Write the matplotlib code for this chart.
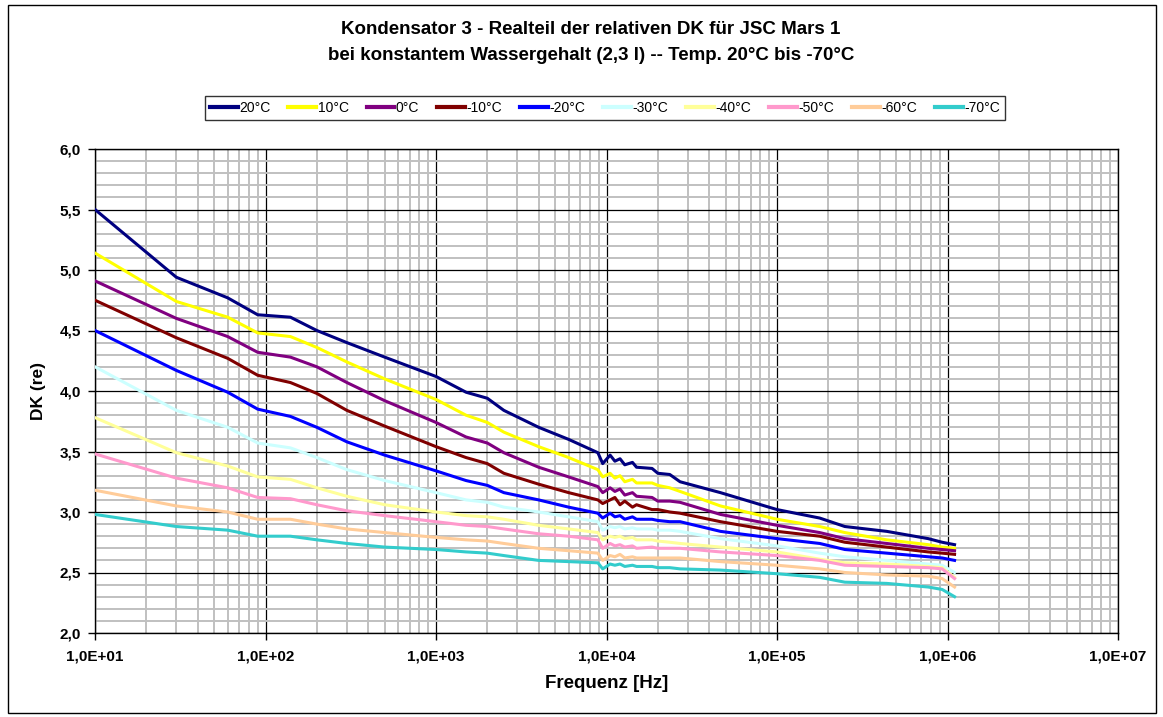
import matplotlib
matplotlib.use("Agg")
import matplotlib.pyplot as plt
from matplotlib.patches import Rectangle
from matplotlib.ticker import FixedLocator, FuncFormatter, MultipleLocator, NullFormatter

plt.rcParams["font.family"] = ["Liberation Sans", "DejaVu Sans"]

freq = [10, 30, 60, 90, 140, 200, 300, 500, 1000, 1500, 2000, 2500, 4000, 6000,
        8900, 9500, 10500, 11200, 12000, 12800, 14200, 15000, 18500, 20000, 23500,
        27000, 46600, 100000, 178000, 250000, 440000, 770000, 930000, 1100000]

labels = ["20°C", "10°C", "0°C", "-10°C", "-20°C", "-30°C", "-40°C", "-50°C", "-60°C", "-70°C"]
colors = ["#000080", "#FFFF00", "#800080", "#800000", "#0000FF",
          "#CCFFFF", "#FFFF99", "#FF99CC", "#FFCC99", "#33CCCC"]

dk_p20 = [5.50, 4.94, 4.77, 4.63, 4.61, 4.50, 4.40, 4.28, 4.12, 3.99, 3.94, 3.84, 3.70, 3.60,
          3.49, 3.40, 3.47, 3.42, 3.44, 3.39, 3.41, 3.37, 3.36, 3.32, 3.31,
          3.25, 3.16, 3.02, 2.95, 2.88, 2.84, 2.78, 2.75, 2.73]
dk_p10 = [5.14, 4.74, 4.61, 4.48, 4.45, 4.36, 4.24, 4.10, 3.93, 3.80, 3.74, 3.66, 3.54, 3.45,
          3.35, 3.29, 3.32, 3.28, 3.30, 3.25, 3.27, 3.24, 3.24, 3.22, 3.20,
          3.17, 3.05, 2.94, 2.88, 2.83, 2.77, 2.73, 2.71, 2.70]
dk_0 = [4.91, 4.60, 4.45, 4.32, 4.28, 4.20, 4.07, 3.92, 3.74, 3.62, 3.57, 3.49, 3.37, 3.29,
        3.21, 3.16, 3.20, 3.17, 3.19, 3.14, 3.16, 3.13, 3.12, 3.09, 3.09,
        3.08, 2.98, 2.89, 2.83, 2.78, 2.74, 2.70, 2.69, 2.68]
dk_m10 = [4.75, 4.44, 4.27, 4.13, 4.07, 3.98, 3.84, 3.71, 3.54, 3.45, 3.40, 3.32, 3.23, 3.16,
          3.10, 3.07, 3.10, 3.12, 3.06, 3.09, 3.04, 3.06, 3.02, 3.02, 3.00,
          2.99, 2.92, 2.84, 2.80, 2.75, 2.71, 2.67, 2.66, 2.65]
dk_m20 = [4.50, 4.17, 3.99, 3.85, 3.79, 3.70, 3.58, 3.47, 3.34, 3.26, 3.22, 3.16, 3.10, 3.04,
          2.99, 2.95, 2.99, 2.96, 2.97, 2.94, 2.96, 2.94, 2.94, 2.93, 2.92,
          2.92, 2.84, 2.78, 2.74, 2.69, 2.66, 2.63, 2.62, 2.60]
dk_m30 = [4.20, 3.84, 3.70, 3.57, 3.53, 3.45, 3.35, 3.26, 3.16, 3.10, 3.08, 3.04, 3.00, 2.96,
          2.92, 2.85, 2.88, 2.87, 2.88, 2.86, 2.87, 2.86, 2.86, 2.85, 2.85,
          2.84, 2.78, 2.72, 2.66, 2.63, 2.60, 2.57, 2.56, 2.50]
dk_m40 = [3.78, 3.49, 3.38, 3.29, 3.27, 3.20, 3.13, 3.06, 3.00, 2.97, 2.96, 2.94, 2.89, 2.86,
          2.83, 2.77, 2.80, 2.79, 2.80, 2.78, 2.79, 2.77, 2.77, 2.76, 2.75,
          2.74, 2.71, 2.67, 2.61, 2.58, 2.57, 2.55, 2.54, 2.46]
dk_m50 = [3.48, 3.28, 3.20, 3.12, 3.11, 3.06, 3.01, 2.97, 2.92, 2.89, 2.88, 2.86, 2.82, 2.80,
          2.77, 2.70, 2.74, 2.72, 2.73, 2.71, 2.72, 2.70, 2.71, 2.70, 2.70,
          2.70, 2.67, 2.64, 2.60, 2.56, 2.55, 2.54, 2.53, 2.45]
dk_m60 = [3.18, 3.05, 3.00, 2.94, 2.94, 2.90, 2.86, 2.83, 2.79, 2.77, 2.76, 2.74, 2.70, 2.68,
          2.66, 2.60, 2.64, 2.63, 2.65, 2.62, 2.63, 2.62, 2.62, 2.62, 2.62,
          2.62, 2.59, 2.56, 2.53, 2.50, 2.48, 2.47, 2.45, 2.38]
dk_m70 = [2.98, 2.88, 2.85, 2.80, 2.80, 2.77, 2.74, 2.71, 2.69, 2.67, 2.66, 2.64, 2.60, 2.59,
          2.58, 2.53, 2.57, 2.56, 2.57, 2.55, 2.56, 2.55, 2.55, 2.54, 2.54,
          2.53, 2.52, 2.49, 2.46, 2.42, 2.41, 2.38, 2.36, 2.30]

series = [dk_p20, dk_p10, dk_0, dk_m10, dk_m20, dk_m30, dk_m40, dk_m50, dk_m60, dk_m70]

x_ticks = [1e1, 1e2, 1e3, 1e4, 1e5, 1e6, 1e7]
x_tick_labels = ["1,0E+01", "1,0E+02", "1,0E+03", "1,0E+04", "1,0E+05", "1,0E+06", "1,0E+07"]

fig = plt.figure(figsize=(11.63, 7.17), dpi=100)
ax = fig.add_axes([95 / 1163, 84 / 717, 1023 / 1163, 484 / 717])

for vals, lab, col in zip(series, labels, colors):
    ax.plot(freq, vals, color=col, lw=2.2, label=lab, zorder=3)

ax.set_xscale("log")
ax.set_xlim(10, 1e7)
ax.set_ylim(2.0, 6.0)

# ticks + german number format
ax.xaxis.set_major_locator(FixedLocator(x_ticks))
ax.xaxis.set_major_formatter(FuncFormatter(lambda v, p: x_tick_labels[x_ticks.index(v)] if v in x_ticks else ""))
ax.xaxis.set_minor_formatter(NullFormatter())
ax.yaxis.set_major_locator(MultipleLocator(0.5))
ax.yaxis.set_minor_locator(MultipleLocator(0.1))
ax.yaxis.set_major_formatter(FuncFormatter(lambda v, p: f"{v:.1f}".replace(".", ",")))

ax.tick_params(axis="both", which="major", direction="out", length=5, width=1, labelsize=11)
ax.tick_params(axis="x", which="major", pad=7)
ax.tick_params(axis="y", which="major", pad=5)
ax.tick_params(axis="both", which="minor", length=0)
for t in ax.get_xticklabels() + ax.get_yticklabels():
    t.set_fontweight("bold")

ax.grid(True, which="minor", color="#c0c0c0", lw=1.4, zorder=0)
ax.grid(True, which="major", color="black", lw=0.9, zorder=1)
for s in ax.spines.values():
    s.set_color("black")
    s.set_linewidth(1)

ax.set_xlabel("Frequenz [Hz]", fontsize=13.5, fontweight="bold", labelpad=8)
ax.set_ylabel("DK (re)", fontsize=12.5, fontweight="bold", labelpad=10)

fig.text(0.508, 1 - 30 / 717, "Kondensator 3 - Realteil der relativen DK für JSC Mars 1",
         ha="center", va="center", fontsize=13.5, fontweight="bold")
fig.text(0.508, 1 - 55 / 717, "bei konstantem Wassergehalt (2,3 l) -- Temp. 20°C bis -70°C",
         ha="center", va="center", fontsize=13.5, fontweight="bold")

leg = fig.legend(loc="center", bbox_to_anchor=(605 / 1163, 1 - 108 / 717), ncol=10,
                 fontsize=10, frameon=True, fancybox=False, handlelength=2.0,
                 handletextpad=0.1, columnspacing=1.3, borderpad=0.35)
leg.get_frame().set_edgecolor("black")
leg.get_frame().set_linewidth(1)
for line in leg.get_lines():
    line.set_linewidth(3)

fig.patches.append(Rectangle((8 / 1163, 4 / 717), 1148 / 1163, 708 / 717,
                             transform=fig.transFigure, fill=False,
                             edgecolor="black", lw=1))

fig.savefig("out.png", dpi=100)
